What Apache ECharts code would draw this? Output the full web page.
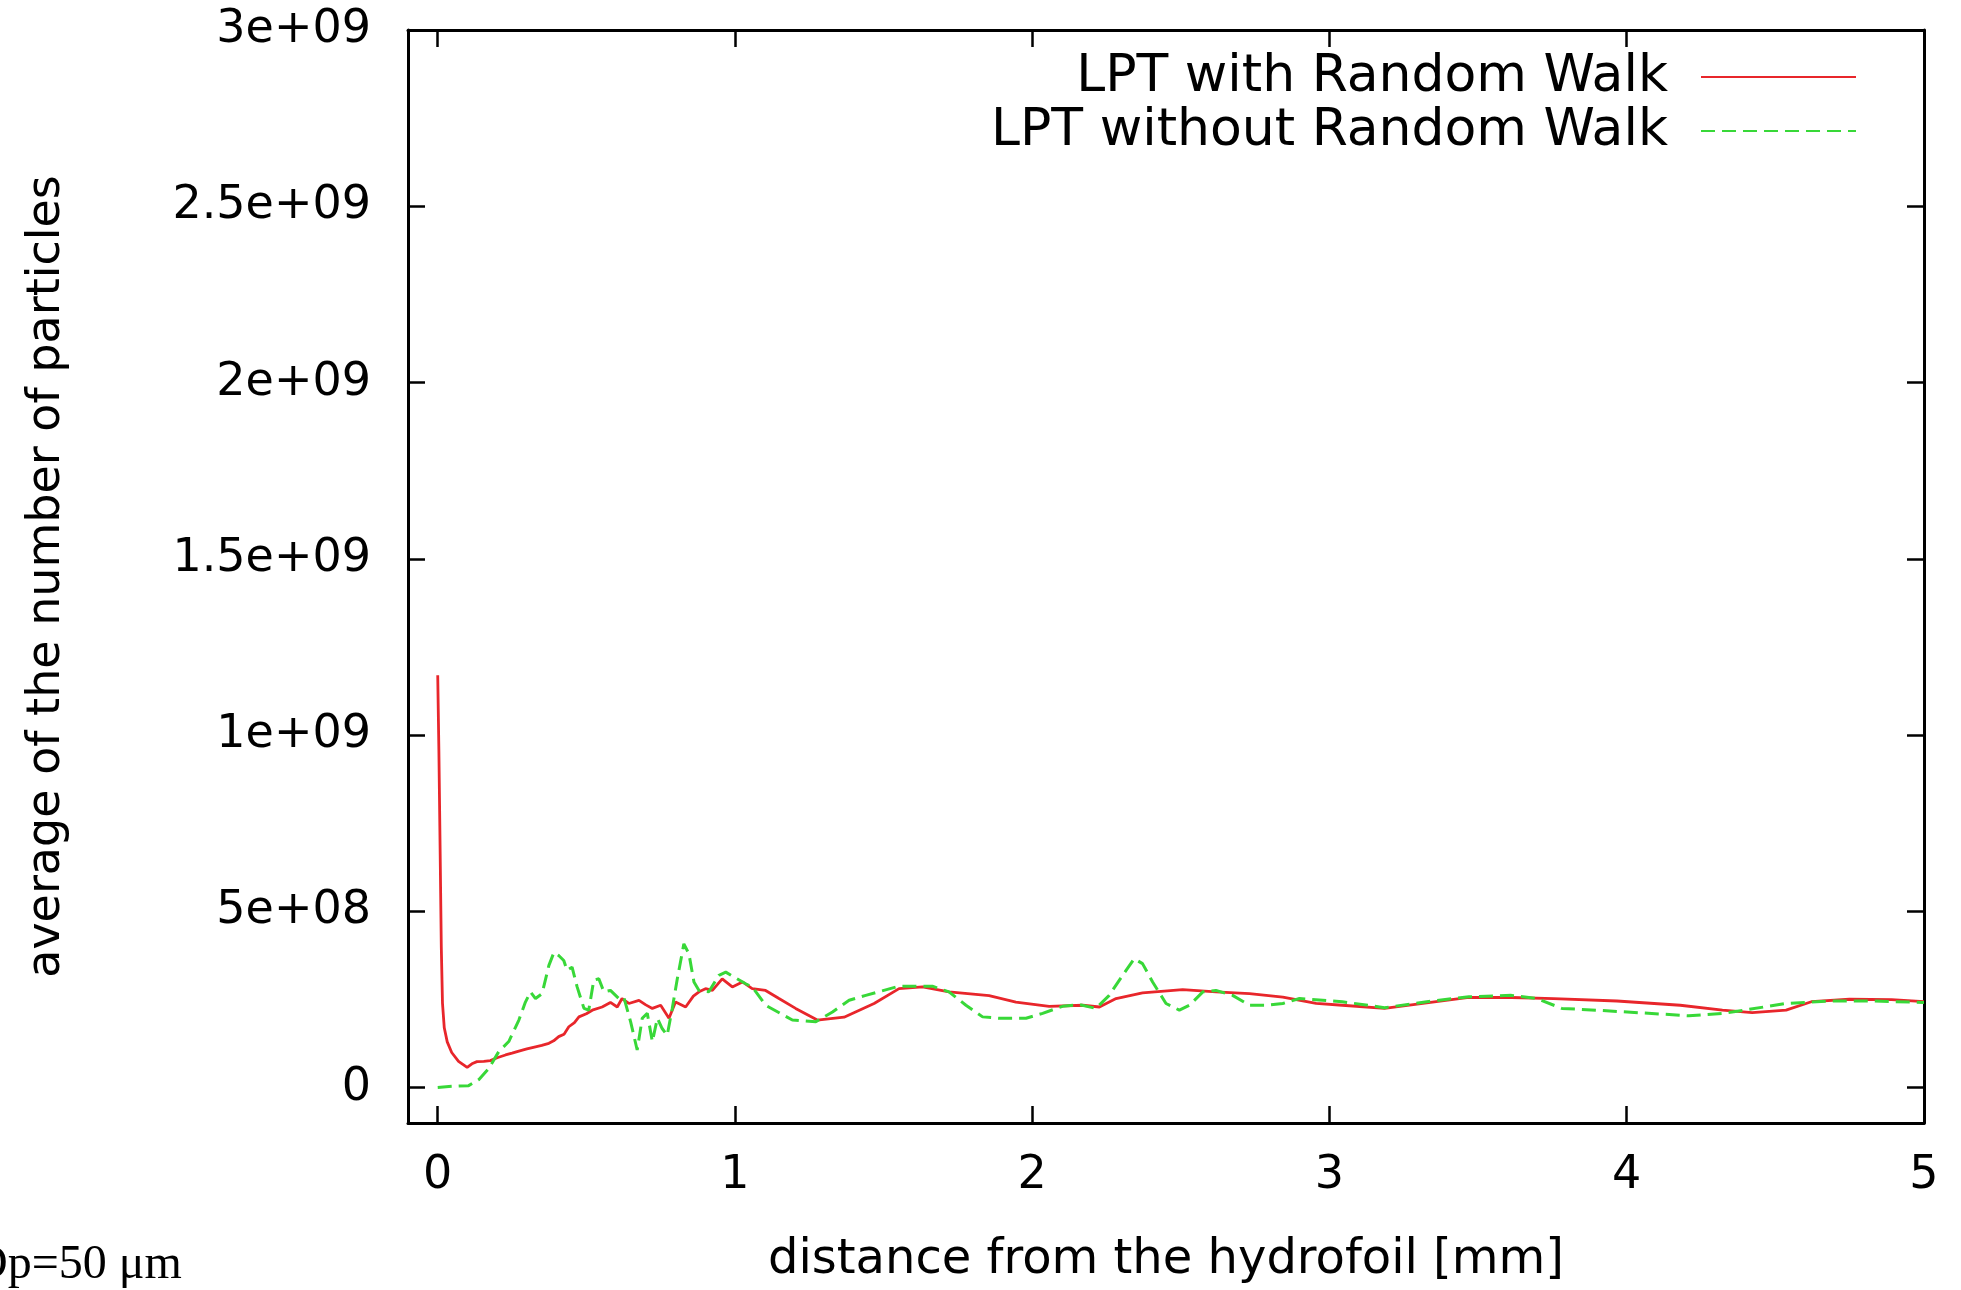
<!DOCTYPE html>
<html>
<head>
<meta charset="utf-8">
<title>average of the number of particles</title>
<script src="https://cdn.jsdelivr.net/npm/echarts@6/dist/echarts.min.js"></script>
<style>
  html, body { margin: 0; padding: 0; background: #ffffff; }
  #chart { width: 1961px; height: 1290px; }
</style>
</head>
<body>
<div id="chart"></div>
<script>
// distance from the hydrofoil [mm] and averaged particle counts, LPT with random walk
const distWithRW = [
  0, 0.004, 0.008, 0.012, 0.016, 0.022, 0.032, 0.047, 0.07, 0.099,
  0.115, 0.132, 0.155, 0.177, 0.2, 0.228, 0.25, 0.273, 0.3, 0.329,
  0.35, 0.374, 0.39, 0.407, 0.425, 0.441, 0.46, 0.475, 0.5, 0.52,
  0.553, 0.581, 0.604, 0.62, 0.643, 0.677, 0.7, 0.722, 0.75, 0.778,
  0.8, 0.834, 0.86, 0.879, 0.901, 0.924, 0.957, 0.991, 1.025, 1.058,
  1.103, 1.148, 1.204, 1.277, 1.367, 1.468, 1.552, 1.631, 1.72, 1.855,
  1.945, 2.057, 2.17, 2.226, 2.282, 2.371, 2.506, 2.618, 2.731, 2.843,
  2.955, 3.043, 3.185, 3.327, 3.469, 3.612, 3.754, 3.967, 4.18, 4.322,
  4.422, 4.536, 4.621, 4.749, 4.891, 5.0
];
const countWithRW = [
  1.17e9, 9.5e8, 6.8e8, 4.0e8, 2.4e8, 1.7e8, 1.3e8, 1.0e8, 7.5e7, 5.8e7,
  6.8e7, 7.4e7, 7.5e7, 7.7e7, 8.5e7, 9.3e7, 9.8e7, 1.04e8, 1.1e8, 1.16e8,
  1.2e8, 1.26e8, 1.33e8, 1.45e8, 1.52e8, 1.73e8, 1.85e8, 2.01e8, 2.1e8, 2.2e8,
  2.29e8, 2.42e8, 2.29e8, 2.53e8, 2.39e8, 2.48e8, 2.35e8, 2.25e8, 2.34e8, 1.97e8,
  2.43e8, 2.29e8, 2.6e8, 2.72e8, 2.81e8, 2.76e8, 3.09e8, 2.86e8, 3.0e8, 2.81e8,
  2.76e8, 2.53e8, 2.25e8, 1.92e8, 2.0e8, 2.39e8, 2.81e8, 2.86e8, 2.72e8, 2.61e8,
  2.43e8, 2.31e8, 2.34e8, 2.29e8, 2.53e8, 2.69e8, 2.78e8, 2.72e8, 2.67e8, 2.57e8,
  2.39e8, 2.34e8, 2.25e8, 2.41e8, 2.56e8, 2.56e8, 2.53e8, 2.46e8, 2.34e8, 2.2e8,
  2.13e8, 2.2e8, 2.44e8, 2.51e8, 2.5e8, 2.44e8
];

// LPT without random walk
const distNoRW = [
  0, 0.048, 0.104, 0.138, 0.172, 0.205, 0.239, 0.273, 0.295, 0.312,
  0.329, 0.351, 0.374, 0.391, 0.407, 0.424, 0.435, 0.452, 0.469, 0.492,
  0.508, 0.525, 0.542, 0.559, 0.581, 0.609, 0.626, 0.649, 0.671, 0.688,
  0.705, 0.722, 0.739, 0.755, 0.772, 0.789, 0.806, 0.828, 0.845, 0.862,
  0.879, 0.912, 0.946, 0.969, 0.997, 1.036, 1.058, 1.103, 1.193, 1.272,
  1.328, 1.384, 1.44, 1.552, 1.664, 1.72, 1.777, 1.833, 1.889, 1.979,
  2.035, 2.102, 2.158, 2.214, 2.259, 2.304, 2.343, 2.371, 2.405, 2.45,
  2.495, 2.529, 2.574, 2.618, 2.674, 2.731, 2.787, 2.843, 2.899, 3.043,
  3.185, 3.327, 3.469, 3.612, 3.697, 3.782, 3.896, 4.038, 4.209, 4.322,
  4.394, 4.536, 4.678, 4.821, 5.0
];
const countNoRW = [
  1e6, 4e6, 6e6, 2.3e7, 5.5e7, 1.02e8, 1.31e8, 1.92e8, 2.43e8, 2.72e8,
  2.53e8, 2.67e8, 3.47e8, 3.84e8, 3.75e8, 3.61e8, 3.33e8, 3.42e8, 2.86e8, 2.25e8,
  2.2e8, 3.05e8, 3.09e8, 2.72e8, 2.76e8, 2.53e8, 2.57e8, 1.87e8, 1.07e8, 1.97e8,
  2.11e8, 1.31e8, 1.97e8, 1.68e8, 1.49e8, 2.25e8, 3.09e8, 4.08e8, 3.8e8, 3.0e8,
  2.76e8, 2.72e8, 3.19e8, 3.28e8, 3.14e8, 2.95e8, 2.86e8, 2.34e8, 1.92e8, 1.87e8,
  2.15e8, 2.48e8, 2.62e8, 2.88e8, 2.88e8, 2.72e8, 2.34e8, 2.01e8, 1.97e8, 1.97e8,
  2.11e8, 2.31e8, 2.36e8, 2.25e8, 2.62e8, 3.19e8, 3.66e8, 3.52e8, 3.0e8, 2.39e8,
  2.2e8, 2.34e8, 2.72e8, 2.76e8, 2.62e8, 2.34e8, 2.34e8, 2.39e8, 2.53e8, 2.44e8,
  2.27e8, 2.44e8, 2.58e8, 2.62e8, 2.53e8, 2.25e8, 2.2e8, 2.13e8, 2.04e8, 2.11e8,
  2.2e8, 2.39e8, 2.46e8, 2.46e8, 2.42e8
];

const seriesNames = ['LPT with Random Walk', 'LPT without Random Walk'];
const xTickValues = [0, 1, 2, 3, 4, 5];
const xTickLabels = ['0', '1', '2', '3', '4', '5'];
const yTickValues = [0, 5e8, 1e9, 1.5e9, 2e9, 2.5e9, 3e9];
const yTickLabels = ['0', '5e+08', '1e+09', '1.5e+09', '2e+09', '2.5e+09', '3e+09'];
const axisTitleX = 'distance from the hydrofoil [mm]';
const axisTitleY = 'average of the number of particles';
const noteText = 'Dp=50 \u03bcm';

const FONT = 'DejaVu Sans';
const INK = '#000000';
const RED = '#e8262b';
const GREEN = '#38d838';

function toPairs(xs, ys) {
  return xs.map(function (x, i) { return [x, ys[i]]; });
}
function labelFor(values, labels) {
  return function (v) {
    for (let i = 0; i < values.length; i++) {
      if (Math.abs(values[i] - v) < 1e-6 * Math.max(1, Math.abs(v))) return labels[i];
    }
    return '';
  };
}

const frameLine = { show: true, onZero: false, lineStyle: { color: INK, width: 3 } };
function ticks(values) {
  return { show: true, inside: true, length: 17, customValues: values,
           lineStyle: { color: INK, width: 2.5 } };
}

const chart = echarts.init(document.getElementById('chart'), null, { renderer: 'canvas' });

chart.setOption({
  animation: false,
  backgroundColor: '#ffffff',
  grid: { left: 408, top: 30, width: 1516, height: 1098, containLabel: false },
  legend: {
    data: seriesNames,
    orient: 'vertical',
    right: 99,
    top: 46,
    align: 'right',
    itemWidth: 155,
    itemHeight: 20,
    itemGap: 2,
    selectedMode: false,
    // keep only the line sample in each key entry
    itemStyle: { color: 'rgba(0,0,0,0)', borderColor: 'rgba(0,0,0,0)', borderWidth: 0 },
    textStyle: { fontFamily: FONT, fontSize: 52, lineHeight: 52, color: INK, padding: [0, 28, 0, 0] }
  },
  xAxis: [
    {
      type: 'value', position: 'bottom', min: -0.1, max: 5,
      axisLine: frameLine,
      axisTick: ticks(xTickValues),
      splitLine: { show: false },
      axisLabel: {
        customValues: xTickValues, formatter: labelFor(xTickValues, xTickLabels),
        margin: 30, fontFamily: FONT, fontSize: 46, color: INK
      },
      name: axisTitleX, nameLocation: 'middle', nameGap: 114,
      nameTextStyle: { fontFamily: FONT, fontSize: 48, color: INK }
    },
    {
      type: 'value', position: 'top', min: -0.1, max: 5,
      axisLine: frameLine,
      axisTick: ticks(xTickValues),
      splitLine: { show: false },
      axisLabel: { show: false }
    }
  ],
  yAxis: [
    {
      type: 'value', position: 'left', min: -1e8, max: 3e9,
      axisLine: frameLine,
      axisTick: ticks(yTickValues),
      splitLine: { show: false },
      axisLabel: {
        customValues: yTickValues, formatter: labelFor(yTickValues, yTickLabels),
        margin: 37, fontFamily: FONT, fontSize: 46, color: INK
      },
      name: axisTitleY, nameLocation: 'middle', nameRotate: 90, nameGap: 338,
      nameTextStyle: { fontFamily: FONT, fontSize: 46, color: INK }
    },
    {
      type: 'value', position: 'right', min: -1e8, max: 3e9,
      axisLine: frameLine,
      axisTick: ticks(yTickValues),
      splitLine: { show: false },
      axisLabel: { show: false }
    }
  ],
  series: [
    {
      name: seriesNames[0], type: 'line', xAxisIndex: 0, yAxisIndex: 0,
      data: toPairs(distWithRW, countWithRW),
      symbol: 'none', showSymbol: false,
      lineStyle: { color: RED, width: 2.8 },
      itemStyle: { color: RED },
      z: 2
    },
    {
      name: seriesNames[1], type: 'line', xAxisIndex: 0, yAxisIndex: 0,
      data: toPairs(distNoRW, countNoRW),
      symbol: 'none', showSymbol: false,
      lineStyle: { color: GREEN, width: 3, type: [14, 7] },
      itemStyle: { color: GREEN },
      z: 3
    }
  ],
  graphic: [
    {
      type: 'text', x: -27, y: 1265,
      style: {
        text: noteText, fill: INK,
        font: '48px "Liberation Serif"',
        align: 'left', verticalAlign: 'middle'
      }
    }
  ]
});
</script>
</body>
</html>
